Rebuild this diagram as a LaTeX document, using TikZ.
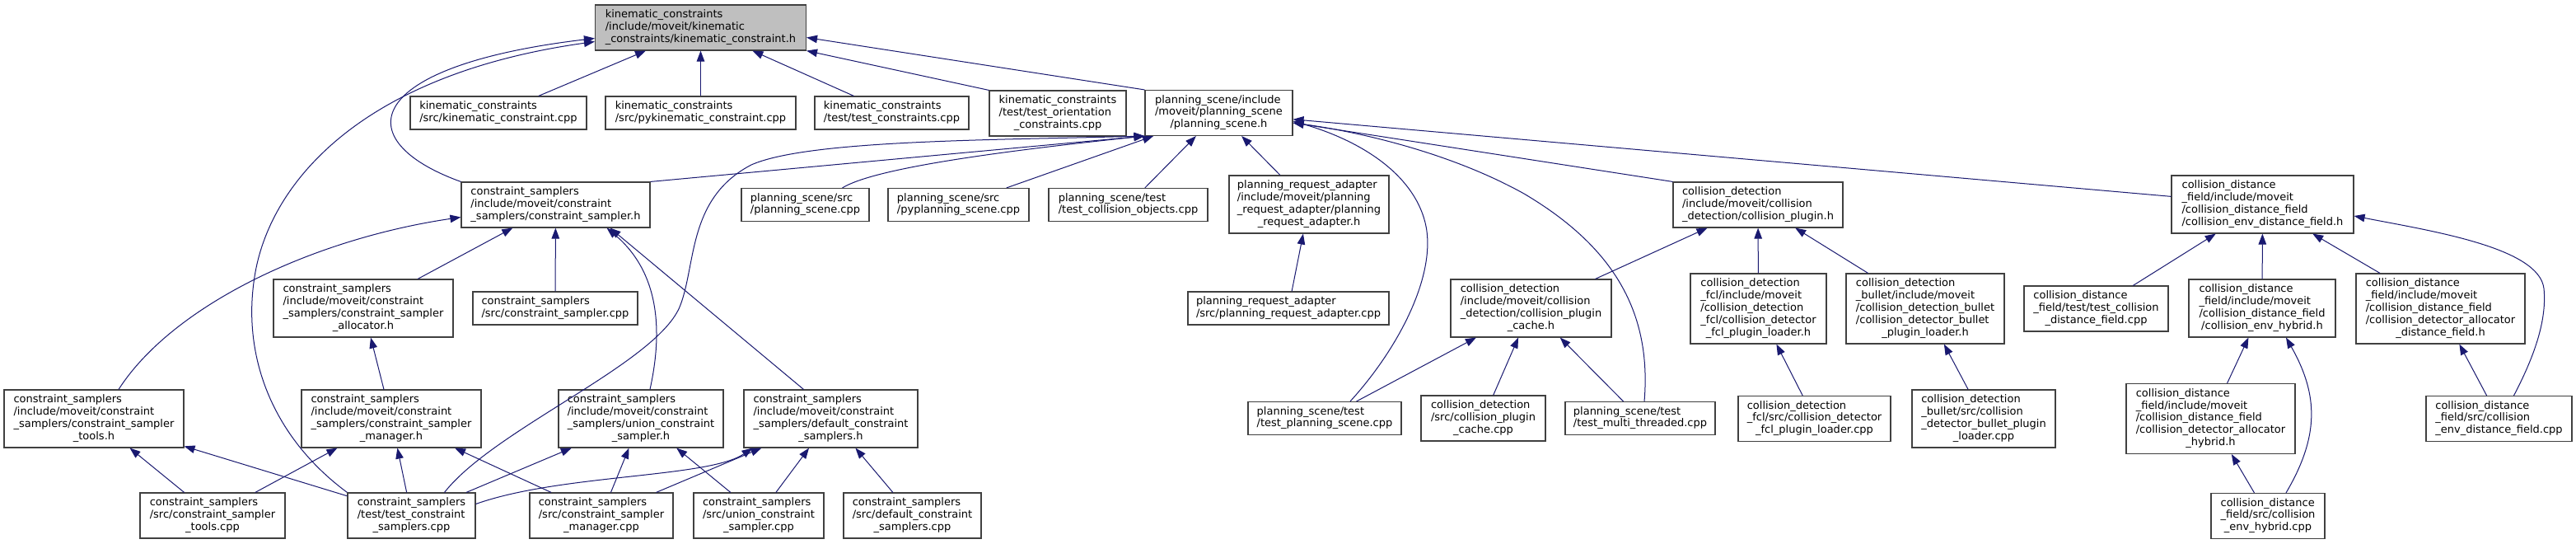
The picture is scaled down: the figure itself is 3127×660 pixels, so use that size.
\documentclass[tikz,border=0pt]{standalone}
\usepackage{fontspec}
\setmainfont{DejaVu Sans}
\usepackage{tikz}
\usetikzlibrary{arrows.meta}
\definecolor{dblue}{HTML}{191970}
\definecolor{rootgray}{HTML}{BFBFBF}
\definecolor{boxline}{HTML}{404040}
\newcommand{\flabel}[2]{\begin{tabular}{@{}l@{}}#1\\\multicolumn{1}{@{}c@{}}{#2}\end{tabular}}
\tikzset{
  box/.style={rectangle, draw=boxline, line width=1.1pt, fill=white, inner sep=0pt, font=\fontsize{13}{14.8}\selectfont},
  h2/.style={minimum height=40pt},
  h3/.style={minimum height=55pt},
  h4/.style={minimum height=70pt},
  h5/.style={minimum height=85pt},
  dep/.style={-{Triangle[length=13pt,width=9.5pt]}, draw=dblue, line width=1pt},
}

\begin{document}
\begin{tikzpicture}[x=1pt, y=-1pt]
  \path[use as bounding box, fill=white] (0,0) rectangle (3127,660);

  % rank 0
  \node[box, fill=rootgray, minimum width=256, h3] (root) at (850.5,33.5) {\flabel{kinematic\_constraints\\/include/moveit/kinematic}{\_constraints/kinematic\_constraint.h}};

  % rank 1
  \node[box, minimum width=214, h2] (ksrc) at (605,137) {\flabel{kinematic\_constraints}{/src/kinematic\_constraint.cpp}};
  \node[box, minimum width=231, h2] (kpy) at (850.5,137) {\flabel{kinematic\_constraints}{/src/pykinematic\_constraint.cpp}};
  \node[box, minimum width=187, h2] (ktest) at (1082.5,137) {\flabel{kinematic\_constraints}{/test/test\_constraints.cpp}};
  \node[box, minimum width=166, h3] (korient) at (1284,137.5) {\flabel{kinematic\_constraints\\/test/test\_orientation}{\_constraints.cpp}};
  \node[box, minimum width=179, h3] (psh) at (1479.5,137) {\flabel{planning\_scene/include\\/moveit/planning\_scene}{/planning\_scene.h}};

  % rank 2
  \node[box, minimum width=229, h3] (csh) at (674.5,248.5) {\flabel{constraint\_samplers\\/include/moveit/constraint}{\_samplers/constraint\_sampler.h}};
  \node[box, minimum width=155, h2] (pscpp) at (977.5,248.5) {\flabel{planning\_scene/src}{/planning\_scene.cpp}};
  \node[box, minimum width=171, h2] (pyps) at (1163.5,248.5) {\flabel{planning\_scene/src}{/pyplanning\_scene.cpp}};
  \node[box, minimum width=193, h2] (pstcoll) at (1369.5,248.5) {\flabel{planning\_scene/test}{/test\_collision\_objects.cpp}};
  \node[box, minimum width=194, h4] (prah) at (1589,248) {\flabel{planning\_request\_adapter\\/include/moveit/planning\\\_request\_adapter/planning}{\_request\_adapter.h}};
  \node[box, minimum width=206, h3] (cdplug) at (2134,248.5) {\flabel{collision\_detection\\/include/moveit/collision}{\_detection/collision\_plugin.h}};
  \node[box, minimum width=221, h4] (cdfenv) at (2746.5,248) {\flabel{collision\_distance\\\_field/include/moveit\\/collision\_distance\_field}{/collision\_env\_distance\_field.h}};

  % rank 3
  \node[box, minimum width=218, h4] (csalloc) at (441,374) {\flabel{constraint\_samplers\\/include/moveit/constraint\\\_samplers/constraint\_sampler}{\_allocator.h}};
  \node[box, minimum width=200, h2] (cscpp) at (674,374) {\flabel{constraint\_samplers}{/src/constraint\_sampler.cpp}};
  \node[box, minimum width=244, h2] (pracpp) at (1564,374) {\flabel{planning\_request\_adapter}{/src/planning\_request\_adapter.cpp}};
  \node[box, minimum width=195, h4] (cdcache) at (1858.5,374) {\flabel{collision\_detection\\/include/moveit/collision\\\_detection/collision\_plugin}{\_cache.h}};
  \node[box, minimum width=165, h5] (cdfcl) at (2134.5,374.5) {\flabel{collision\_detection\\\_fcl/include/moveit\\/collision\_detection\\\_fcl/collision\_detector}{\_fcl\_plugin\_loader.h}};
  \node[box, minimum width=192, h5] (cdbullet) at (2337,374.5) {\flabel{collision\_detection\\\_bullet/include/moveit\\/collision\_detection\_bullet\\/collision\_detector\_bullet}{\_plugin\_loader.h}};
  \node[box, minimum width=175, h3] (cdftest) at (2544.5,374.5) {\flabel{collision\_distance\\\_field/test/test\_collision}{\_distance\_field.cpp}};
  \node[box, minimum width=178, h4] (cdfhyb) at (2746,374) {\flabel{collision\_distance\\\_field/include/moveit\\/collision\_distance\_field}{/collision\_env\_hybrid.h}};
  \node[box, minimum width=205, h5] (cdfalloc) at (2962.5,374.5) {\flabel{collision\_distance\\\_field/include/moveit\\/collision\_distance\_field\\/collision\_detector\_allocator}{\_distance\_field.h}};

  % rank 4
  \node[box, minimum width=218, h4] (cstools) at (114,508) {\flabel{constraint\_samplers\\/include/moveit/constraint\\\_samplers/constraint\_sampler}{\_tools.h}};
  \node[box, minimum width=218, h4] (csman) at (475,508) {\flabel{constraint\_samplers\\/include/moveit/constraint\\\_samplers/constraint\_sampler}{\_manager.h}};
  \node[box, minimum width=200, h4] (csunion) at (778,508) {\flabel{constraint\_samplers\\/include/moveit/constraint\\\_samplers/union\_constraint}{\_sampler.h}};
  \node[box, minimum width=211, h4] (csdef) at (1008.5,508) {\flabel{constraint\_samplers\\/include/moveit/constraint\\\_samplers/default\_constraint}{\_samplers.h}};
  \node[box, minimum width=186, h2] (pstest) at (1608,507.5) {\flabel{planning\_scene/test}{/test\_planning\_scene.cpp}};
  \node[box, minimum width=151, h3] (cdcachecpp) at (1800.5,507.5) {\flabel{collision\_detection\\/src/collision\_plugin}{\_cache.cpp}};
  \node[box, minimum width=182, h2] (psmulti) at (1991,507.5) {\flabel{planning\_scene/test}{/test\_multi\_threaded.cpp}};
  \node[box, minimum width=185, h3] (cdfclcpp) at (2202.5,508) {\flabel{collision\_detection\\\_fcl/src/collision\_detector}{\_fcl\_plugin\_loader.cpp}};
  \node[box, minimum width=174, h4] (cdbulletcpp) at (2408,508) {\flabel{collision\_detection\\\_bullet/src/collision\\\_detector\_bullet\_plugin}{\_loader.cpp}};
  \node[box, minimum width=205, h5] (cdfallochyb) at (2683.5,508) {\flabel{collision\_distance\\\_field/include/moveit\\/collision\_distance\_field\\/collision\_detector\_allocator}{\_hybrid.h}};
  \node[box, minimum width=177, h3] (cdfenvcpp) at (3033.5,508) {\flabel{collision\_distance\\\_field/src/collision}{\_env\_distance\_field.cpp}};

  % rank 5
  \node[box, minimum width=176, h3] (cstoolscpp) at (258,625.5) {\flabel{constraint\_samplers\\/src/constraint\_sampler}{\_tools.cpp}};
  \node[box, minimum width=155, h3] (cstest) at (499.5,625.5) {\flabel{constraint\_samplers\\/test/test\_constraint}{\_samplers.cpp}};
  \node[box, minimum width=174, h3] (csmancpp) at (730,625.5) {\flabel{constraint\_samplers\\/src/constraint\_sampler}{\_manager.cpp}};
  \node[box, minimum width=158, h3] (csunioncpp) at (921,625.5) {\flabel{constraint\_samplers\\/src/union\_constraint}{\_sampler.cpp}};
  \node[box, minimum width=167, h3] (csdefcpp) at (1107.5,625.5) {\flabel{constraint\_samplers\\/src/default\_constraint}{\_samplers.cpp}};
  \node[box, minimum width=138, h3] (cdfhybcpp) at (2753,626) {\flabel{collision\_distance\\\_field/src/collision}{\_env\_hybrid.cpp}};

  % into kinematic_constraint.h
  \draw[dep] (ksrc) -- (root);
  \draw[dep] (kpy) -- (root);
  \draw[dep] (ktest) -- (root);
  \draw[dep] (korient.north west) -- (root.south east);
  \draw[dep] (psh.north west) -- ([yshift=-12pt]root.east);
  \draw[dep] (csh.north west) .. controls (420,170) and (440,80) .. ([yshift=-13pt]root.west);
  \draw[dep] (cstest.north west) .. controls (330,530) and (292,430) .. (310,330)
    .. controls (330,220) and (440,90) .. ([yshift=-17pt]root.west);

  % into planning_scene.h
  \draw[dep] (csh.north east) -- (psh.south west);
  \draw[dep] ([xshift=45pt]pscpp.north) .. controls (1060,205) and (1200,185) .. (psh.south west);
  \draw[dep] ([xshift=40pt]cstest.north) .. controls (600,520) and (800,440) .. (826,370)
    .. controls (845,320) and (835,240) .. (912,200)
    .. controls (980,170) and (1200,170) .. (psh.south west);
  \draw[dep] (pyps) -- (psh);
  \draw[dep] (pstcoll) -- (psh);
  \draw[dep] (prah) -- (psh);
  \draw[dep] ([xshift=31pt]pstest.north) .. controls (1700,420) and (1745,330) .. (1730,270)
    .. controls (1715,210) and (1650,170) .. ([yshift=-10pt]psh.east);
  \draw[dep] ([xshift=5pt]psmulti.north) .. controls (2005,380) and (1960,300) .. (1850,235)
    .. controls (1760,185) and (1650,160) .. ([yshift=-12pt]psh.east);
  \draw[dep] (cdplug.north west) -- ([yshift=-12pt]psh.east);
  \draw[dep] (cdfenv) -- (psh);

  % into constraint_sampler.h
  \draw[dep] (csalloc) -- (csh);
  \draw[dep] (cscpp) -- (csh);
  \draw[dep] ([xshift=30pt]cstools.north) .. controls (210,370) and (380,290) .. ([yshift=-15pt]csh.west);
  \draw[dep] ([xshift=11pt]csunion.north) .. controls (805,400) and (800,330) .. ([xshift=62pt]csh.south);
  \draw[dep] ([xshift=-33pt]csdef.north) -- ([xshift=66pt]csh.south);
  \draw[dep] (csman) -- (csalloc);

  % constraint_samplers sources
  \draw[dep] (cstoolscpp) -- (cstools);
  \draw[dep] (cstoolscpp) -- (csman);
  \draw[dep] (cstest) -- (cstools);
  \draw[dep] (cstest) -- (csman);
  \draw[dep] (cstest) -- (csunion);
  \draw[dep] ([yshift=14pt]cstest.east) .. controls (680,575) and (860,580) .. ([xshift=-95pt]csdef.south);
  \draw[dep] (csmancpp) -- (csman);
  \draw[dep] (csmancpp) -- (csunion);
  \draw[dep] (csmancpp) -- (csdef);
  \draw[dep] (csunioncpp) -- (csunion);
  \draw[dep] (csunioncpp) -- (csdef);
  \draw[dep] (csdefcpp) -- (csdef);

  % planning_request_adapter and collision_detection
  \draw[dep] (pracpp) -- (prah);
  \draw[dep] (cdcache) -- (cdplug);
  \draw[dep] (cdfcl) -- (cdplug);
  \draw[dep] (cdbullet) -- (cdplug);
  \draw[dep] (pstest) -- (cdcache);
  \draw[dep] (cdcachecpp) -- (cdcache);
  \draw[dep] (psmulti) -- (cdcache);
  \draw[dep] (cdfclcpp) -- (cdfcl);
  \draw[dep] (cdbulletcpp) -- (cdbullet);

  % collision_distance_field
  \draw[dep] (cdftest) -- (cdfenv);
  \draw[dep] (cdfhyb) -- (cdfenv);
  \draw[dep] (cdfalloc) -- (cdfenv);
  \draw[dep] ([xshift=18pt]cdfenvcpp.north) .. controls (3075,435) and (3092,390) .. (3088,350)
    .. controls (3082,300) and (2950,280) .. ([yshift=-14pt]cdfenv.east);
  \draw[dep] (cdfenvcpp) -- (cdfalloc);
  \draw[dep] (cdfallochyb) -- (cdfhyb);
  \draw[dep] (cdfhybcpp) -- (cdfallochyb);
  \draw[dep] ([xshift=22pt]cdfhybcpp.north) .. controls (2815,530) and (2815,480) .. ([xshift=29pt]cdfhyb.south);
\end{tikzpicture}
\end{document}
